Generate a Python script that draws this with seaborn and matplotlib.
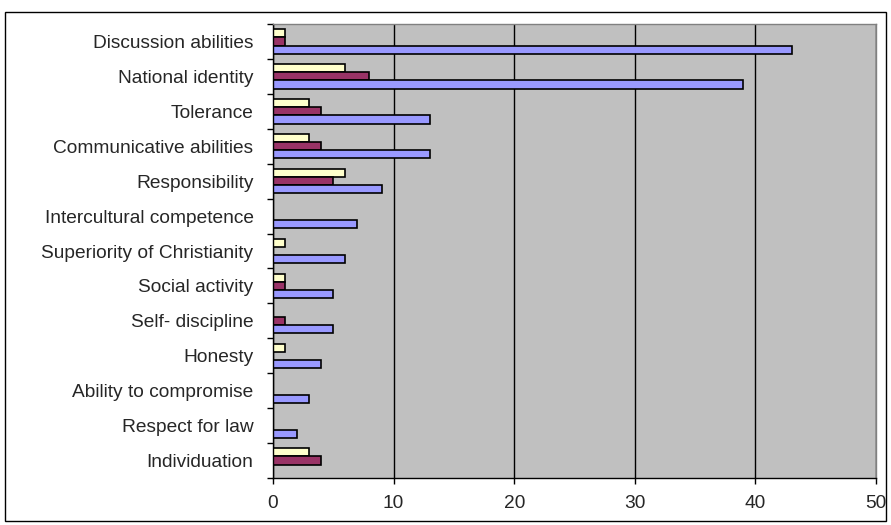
import pandas as pd
import matplotlib.pyplot as plt
import seaborn as sns
from matplotlib.patches import Rectangle
from matplotlib.ticker import FixedLocator

# Data (top to bottom)
categories = ['Discussion abilities', 'National identity', 'Tolerance',
              'Communicative abilities', 'Responsibility', 'Intercultural competence',
              'Superiority of Christianity', 'Social activity', 'Self- discipline',
              'Honesty', 'Ability to compromise', 'Respect for law', 'Individuation']
series1 = [43, 39, 13, 13, 9, 7, 6, 5, 5, 4, 3, 2, 0]   # blue
series2 = [1, 8, 4, 4, 5, 0, 0, 1, 1, 0, 0, 0, 4]       # maroon
series3 = [1, 6, 3, 3, 6, 0, 1, 1, 0, 1, 0, 0, 3]       # light yellow

df = pd.DataFrame({'category': categories * 3,
                   'value': series3 + series2 + series1,
                   'series': ['Series 3'] * 13 + ['Series 2'] * 13 + ['Series 1'] * 13})

palette = {'Series 3': '#FFFFCC', 'Series 2': '#993366', 'Series 1': '#9999FF'}

sns.set_style('white')
plt.rcParams['font.family'] = ['Liberation Sans', 'DejaVu Sans']

fig = plt.figure(figsize=(8.91, 5.25), dpi=100)
ax = fig.add_axes([273 / 891, 1 - 478 / 525, (876 - 273) / 891, (478 - 24) / 525])

sns.barplot(data=df, y='category', x='value', hue='series', order=categories,
            hue_order=['Series 3', 'Series 2', 'Series 1'], palette=palette,
            width=0.7, edgecolor='black', linewidth=1.2, saturation=1, ax=ax, legend=False)

ax.set_facecolor('#C0C0C0')
ax.set_xlim(0, 50)
ax.set_ylim(len(categories) - 0.5, -0.5)
ax.set_xticks([0, 10, 20, 30, 40, 50])
ax.grid(axis='x', color='black', linewidth=1)
ax.set_axisbelow(True)
ax.set_xlabel('')
ax.set_ylabel('')

ax.yaxis.set_minor_locator(FixedLocator([i - 0.5 for i in range(len(categories) + 1)]))
ax.tick_params(axis='y', which='major', length=0, pad=14, labelsize=13.8)
ax.tick_params(axis='y', which='minor', length=4, width=1, color='black', direction='out', left=True)
ax.tick_params(axis='x', which='major', length=4, width=1, color='black', direction='out',
               bottom=True, labelsize=13.8, pad=8)

for s in ['left', 'bottom']:
    ax.spines[s].set_color('black')
    ax.spines[s].set_linewidth(1)
for s in ['top', 'right']:
    ax.spines[s].set_color('#808080')
    ax.spines[s].set_linewidth(1)

# Outer chart border
fig.patches.append(Rectangle((5 / 891, 1 - 521 / 525), 881 / 891, 509 / 525,
                             transform=fig.transFigure, fill=False,
                             edgecolor='black', linewidth=1))

fig.savefig('out.png', dpi=100)
